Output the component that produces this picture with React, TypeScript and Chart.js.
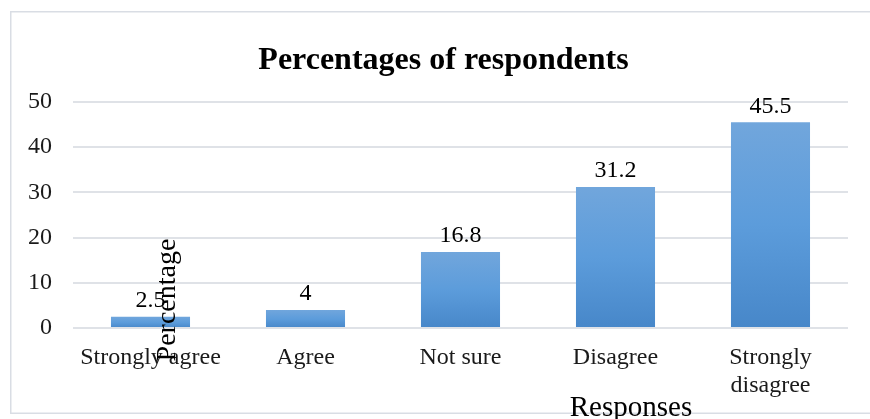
import React, { useEffect, useRef } from "react";
import { Chart, registerables } from "chart.js";

Chart.register(...registerables);

const categories: (string | string[])[] = ["Strongly agree", "Agree", "Not sure", "Disagree", ["Strongly", "disagree"]];
const percentages: number[] = [2.5, 4, 16.8, 31.2, 45.5];
const yTicks: number[] = [0, 10, 20, 30, 40, 50];
const chartTitle = "Percentages of respondents";
const yTitle = "Percentage";
const xTitle = "Responses";

const SERIF = "'Liberation Serif', 'Times New Roman', serif";

const overlayPlugin = {
  id: "overlay",
  beforeDraw(chart: any) {
    const c = chart.ctx;
    c.save();
    c.fillStyle = "#ffffff";
    c.fillRect(0, 0, chart.width, chart.height);
    c.strokeStyle = "#d9dde4";
    c.lineWidth = 1.5;
    c.strokeRect(10.75, 11.75, 900, 401.5);
    c.restore();
  },
  afterDraw(chart: any) {
    const c = chart.ctx;
    const meta = chart.getDatasetMeta(0);
    c.save();
    // title
    c.fillStyle = "#000";
    c.font = `bold 32px ${SERIF}`;
    c.textAlign = "center";
    c.textBaseline = "alphabetic";
    c.fillText(chartTitle, 443.5, 69);
    // data labels
    c.font = `24px ${SERIF}`;
    c.textBaseline = "middle";
    meta.data.forEach((bar: any, i: number) => {
      c.fillText(String(percentages[i]), bar.x, bar.y - 16);
    });
    // x title
    c.font = `29px ${SERIF}`;
    c.textBaseline = "alphabetic";
    c.fillText(xTitle, 631, 416);
    // y title (rotated)
    c.translate(168, 300);
    c.rotate(-Math.PI / 2);
    c.font = `28px ${SERIF}`;
    c.textBaseline = "middle";
    c.fillText(yTitle, 0, 0);
    c.restore();
  },
};

export default function App() {
  const ref = useRef<HTMLCanvasElement | null>(null);
  useEffect(() => {
    if (!ref.current) return;
    const chart = new Chart(ref.current, {
      type: "bar",
      data: {
        labels: categories as any,
        datasets: [
          {
            data: percentages,
            backgroundColor: (ctx: any) => {
              const ch = ctx.chart;
              if (!ch.chartArea || ctx.type !== "data") return "#5b9bd5";
              const y = ch.scales.y;
              const top = y.getPixelForValue(ctx.raw);
              const bottom = y.getPixelForValue(0);
              const g = ch.ctx.createLinearGradient(0, top, 0, bottom);
              g.addColorStop(0, "#71a6dc");
              g.addColorStop(0.5, "#5c9cdb");
              g.addColorStop(1, "#4787c9");
              return g;
            },
            borderWidth: 0,
            barPercentage: 0.51,
            categoryPercentage: 1,
          },
        ],
      },
      options: {
        responsive: false,
        animation: false,
        layout: { padding: { left: 0, right: 22, top: 102, bottom: 0 } },
        plugins: {
          legend: { display: false },
          title: { display: false },
          tooltip: { enabled: false },
        },
        scales: {
          x: {
            grid: { display: false, drawTicks: false },
            border: { display: false },
            ticks: {
              font: { family: SERIF, size: 24 },
              color: "#1a1a1a",
              padding: 15,
              maxRotation: 0,
              autoSkip: false,
            },
            afterFit: (s: any) => {
              s.height = 91;
            },
          },
          y: {
            min: 0,
            max: 50,
            afterBuildTicks: (s: any) => {
              s.ticks = yTicks.map((v) => ({ value: v }));
            },
            grid: { color: "#dfe2e7", lineWidth: 2, drawTicks: false },
            border: { display: false },
            ticks: {
              font: { family: SERIF, size: 24 },
              color: "#1a1a1a",
              padding: 21,
            },
            afterFit: (s: any) => {
              s.width = 73;
            },
          },
        },
      },
      plugins: [overlayPlugin],
    });
    return () => chart.destroy();
  }, []);
  return (
    <div style={{ position: "fixed", left: 0, top: 0 }}>
      <canvas ref={ref} width={870} height={419} style={{ display: "block" }} />
    </div>
  );
}
